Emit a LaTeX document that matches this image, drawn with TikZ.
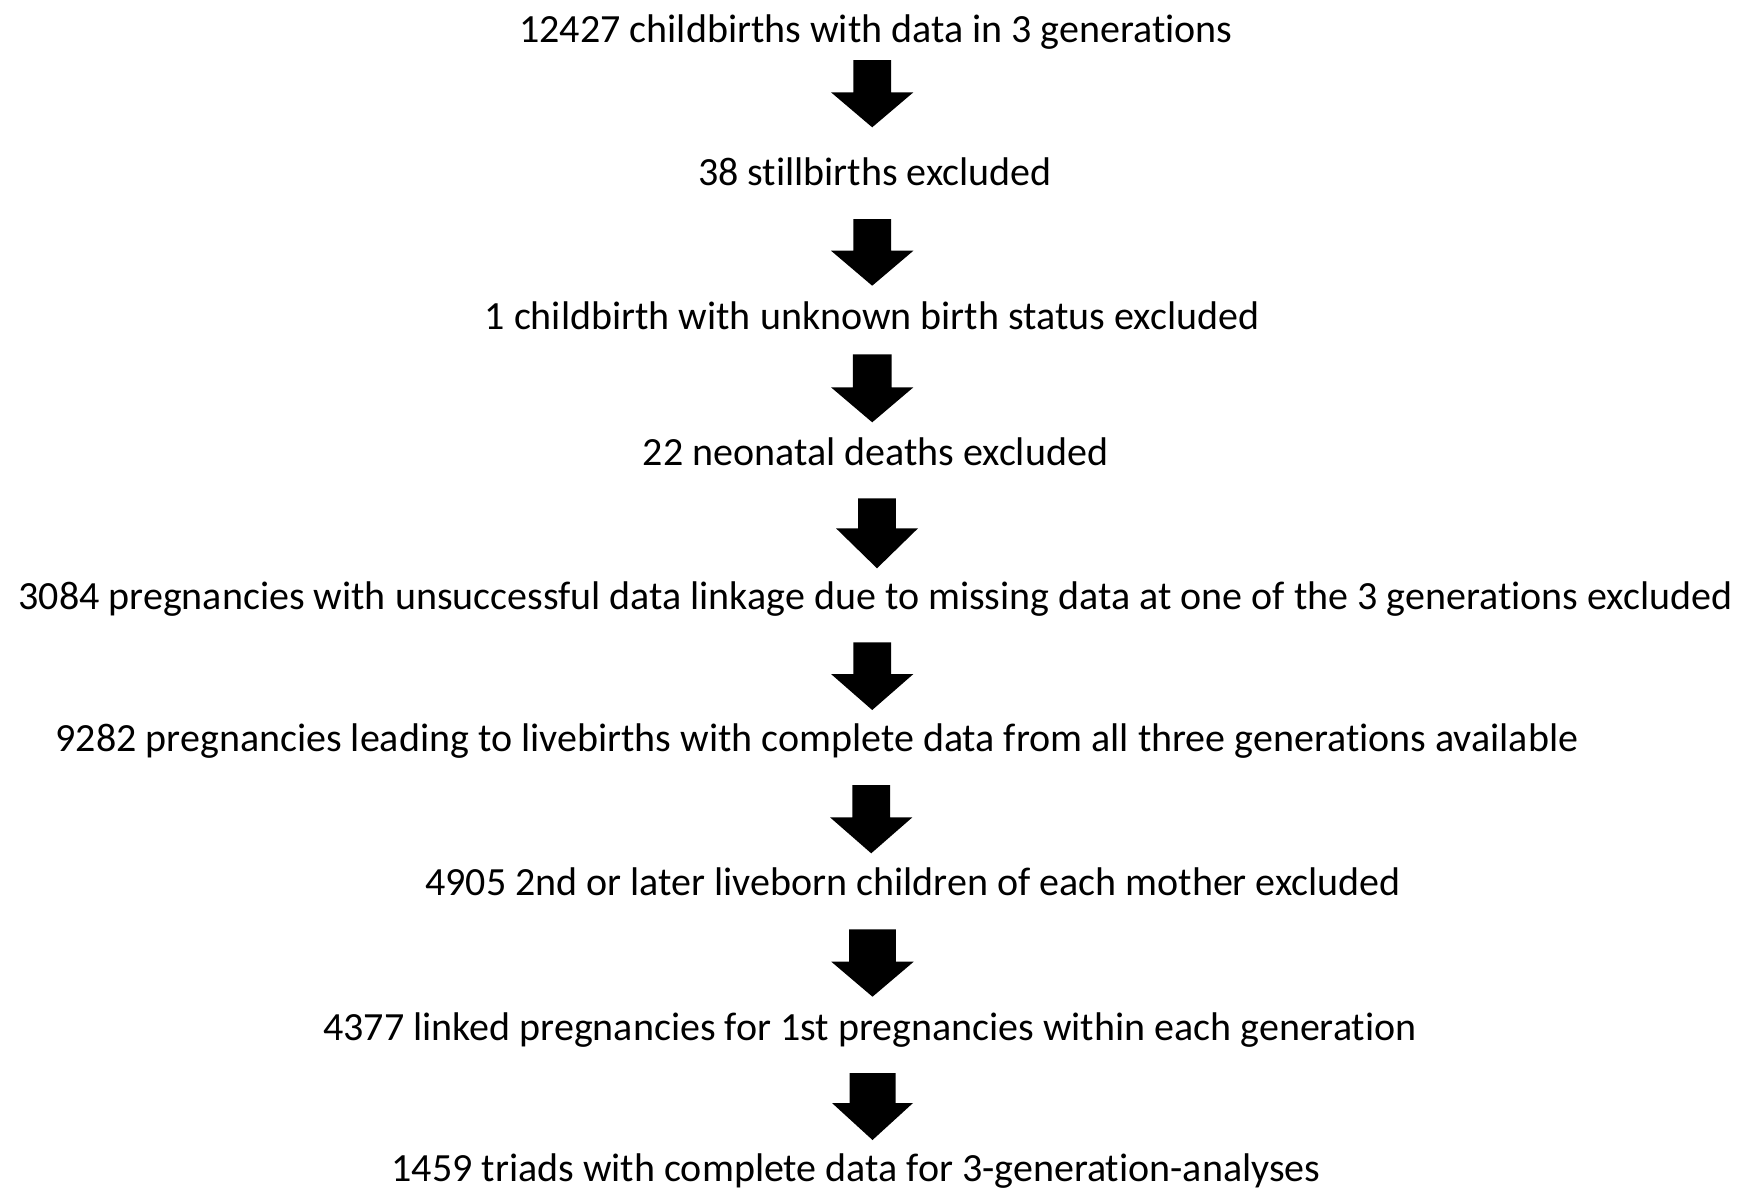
\documentclass[tikz,border=0pt]{standalone}
\usepackage{fontspec}
\setmainfont{Carlito}[Ligatures=CommonOff]
\newcommand\flowarrow[6]{%
  \fill[blk] ({#1-#2},#4) -- ({#1+#2},#4) -- ({#1+#2},#5) -- ({#1+#3},#5)
    -- (#1,#6) -- ({#1-#3},#5) -- ({#1-#2},#5) -- cycle;}
\begin{document}
\begin{tikzpicture}[x=1pt,y=-1pt,
  txt/.style={anchor=base, inner sep=0pt, font=\fontsize{40}{48}\selectfont},
  blk/.style={fill=black, draw=none}]
\useasboundingbox[fill=white] (0,0) rectangle (1740,1189);
\node[txt] (t1) at (876,42.5) {12427 childbirths with data in 3 generations};
\node[txt] (t2) at (875,185.5) {38 stillbirths excluded};
\node[txt] (t3) at (872,329.5) {1 childbirth with unknown birth status excluded};
\node[txt] (t4) at (875.5,465) {22 neonatal deaths excluded};
\node[txt] (t5) at (875.5,609) {3084 pregnancies with unsuccessful data linkage due to missing data at one of the 3 generations excluded};
\node[txt] (t6) at (817,751.5) {9282 pregnancies leading to livebirths with complete data from all three generations available};
\node[txt] (t7) at (913,895.5) {4905 2nd or later liveborn children of each mother excluded};
\node[txt] (t8) at (870,1040) {4377 linked pregnancies for 1st pregnancies within each generation};
\node[txt] (t9) at (856,1181.5) {1459 triads with complete data for 3-generation-analyses};
\flowarrow{872.2}{18.9}{41.2}{60}{92.3}{127.3}
\flowarrow{872.2}{18.9}{41.2}{219}{250.7}{285.7}
\flowarrow{872.2}{19.4}{41.2}{354.3}{387.3}{422.3}
\flowarrow{877}{18.9}{41}{498.3}{528.3}{568.3}
\flowarrow{872.2}{18.9}{41.2}{642.3}{674}{710}
\flowarrow{871.2}{18.9}{41.2}{785}{817.3}{853.3}
\flowarrow{872.5}{23.3}{41.2}{929.3}{961.7}{996.7}
\flowarrow{872.5}{23}{40.5}{1073}{1103}{1140}
\end{tikzpicture}
\end{document}
